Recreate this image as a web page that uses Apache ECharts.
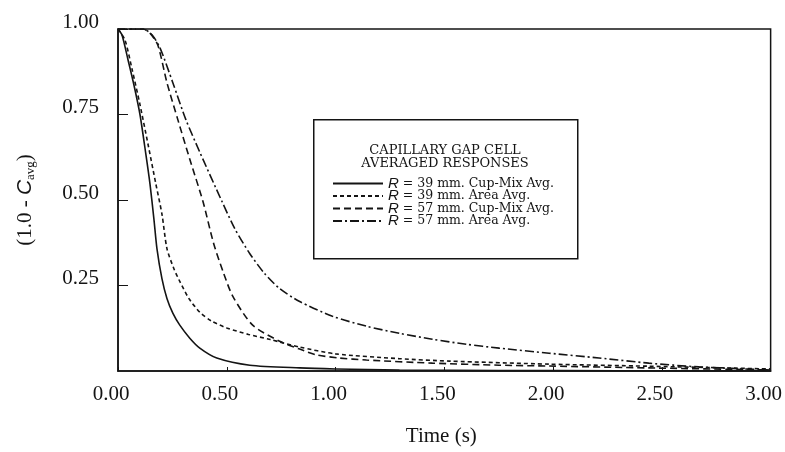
<!DOCTYPE html>
<html>
<head>
<meta charset="utf-8">
<script src="https://cdn.jsdelivr.net/npm/echarts@6/dist/echarts.min.js"></script>
<style>
html,body{margin:0;padding:0;background:#fff;}
#chart{width:785px;height:452px;}
</style>
</head>
<body>
<div id="chart"></div>
<script>
// Time (s) and (1.0 - C_avg) values
var tCup39 = [0, 0.018, 0.046, 0.073, 0.101, 0.128, 0.147, 0.165, 0.179, 0.202, 0.225, 0.252, 0.284, 0.330, 0.376, 0.454, 0.606, 0.835, 1.0, 1.294, 1.75, 2.3, 3.0];
var vCup39 = [1.0, 0.983, 0.910, 0.837, 0.750, 0.634, 0.547, 0.445, 0.358, 0.270, 0.212, 0.169, 0.134, 0.096, 0.067, 0.038, 0.017, 0.009, 0.006, 0.003, 0.0015, 0.0008, 0.0];

var tArea39 = [0, 0.032, 0.064, 0.101, 0.138, 0.174, 0.202, 0.225, 0.257, 0.284, 0.326, 0.376, 0.43, 0.5, 0.6, 0.7, 0.835, 1.0, 1.294, 1.523, 1.982, 2.44, 3.0];
var vArea39 = [1.0, 0.968, 0.884, 0.779, 0.663, 0.547, 0.459, 0.358, 0.299, 0.262, 0.212, 0.172, 0.146, 0.126, 0.107, 0.092, 0.070, 0.050, 0.036, 0.029, 0.020, 0.014, 0.006];

var tCup57 = [0, 0.115, 0.147, 0.183, 0.225, 0.275, 0.330, 0.390, 0.440, 0.486, 0.528, 0.619, 0.743, 0.835, 0.913, 1.018, 1.142, 1.445, 1.752, 1.982, 2.44, 3.0];
var vCup57 = [1.0, 1.0, 0.988, 0.953, 0.843, 0.735, 0.619, 0.497, 0.372, 0.285, 0.218, 0.134, 0.087, 0.064, 0.047, 0.038, 0.032, 0.023, 0.017, 0.0145, 0.009, 0.003];

var tArea57 = [0, 0.115, 0.156, 0.193, 0.252, 0.312, 0.376, 0.477, 0.537, 0.606, 0.674, 0.743, 0.835, 0.986, 1.142, 1.294, 1.445, 1.601, 1.752, 1.982, 2.211, 2.44, 2.67, 3.0];
var vArea57 = [1.0, 1.0, 0.983, 0.945, 0.843, 0.735, 0.640, 0.497, 0.416, 0.343, 0.285, 0.241, 0.203, 0.160, 0.131, 0.110, 0.093, 0.078, 0.067, 0.052, 0.038, 0.023, 0.012, 0.003];

var seriesNames = ['R39cup', 'R39area', 'R57cup', 'R57area'];
var legendLabels = {
  R39cup: '{i|R} = 39 mm. Cup-Mix Avg.',
  R39area: '{i|R} = 39 mm. Area Avg.',
  R57cup: '{i|R} = 57 mm. Cup-Mix Avg.',
  R57area: '{i|R} = 57 mm. Area Avg.'
};
var legendTitle = ['CAPILLARY GAP CELL', 'AVERAGED RESPONSES'];

function pairs(t, v) { return t.map(function (x, i) { return [x, v[i]]; }); }

var ink = '#141414';
var serif = '"Liberation Serif", "DejaVu Serif", serif';
var wideSerif = '"DejaVu Serif", "Liberation Serif", serif';
var sans = '"Liberation Sans", "DejaVu Sans", sans-serif';

var chart = echarts.init(document.getElementById('chart'), null, {renderer: 'canvas'});
var dashes = ['solid', [4, 3], [7, 4], [9, 3, 2, 3]];
var dataSets = [pairs(tCup39, vCup39), pairs(tArea39, vArea39), pairs(tCup57, vCup57), pairs(tArea57, vArea57)];

var option = {
  backgroundColor: '#fff',
  animation: false,
  grid: {left: 118, right: 13, top: 29, bottom: 79, show: true, borderColor: ink, borderWidth: 1.5, backgroundColor: 'transparent'},
  xAxis: {
    type: 'value', min: 0, max: 3, interval: 0.5,
    name: 'Time (s)', nameLocation: 'middle', nameGap: 55,
    nameTextStyle: {fontFamily: serif, fontSize: 21, color: ink, padding: [0, 6, 0, 0]},
    axisLine: {lineStyle: {color: ink, width: 1.5}},
    axisTick: {inside: true, length: 4, lineStyle: {color: ink}},
    splitLine: {show: false},
    axisLabel: {fontFamily: serif, fontSize: 21, color: ink, margin: 13, padding: [0, 14, 0, 0],
      formatter: function (v) { return v.toFixed(2); }}
  },
  yAxis: {
    type: 'value', min: 0, max: 1, interval: 0.25,
    name: '(1.0 - {c|C}{s|avg})', nameLocation: 'middle', nameGap: 81, nameRotate: 90,
    nameTextStyle: {fontFamily: serif, fontSize: 21, color: ink,
      rich: {c: {fontFamily: sans, fontStyle: 'italic', fontSize: 21, color: ink},
             s: {fontFamily: serif, fontSize: 13, color: ink, verticalAlign: 'bottom', padding: [10, 0, 0, 0]}}},
    axisLine: {lineStyle: {color: ink, width: 1.5}},
    axisTick: {inside: true, length: 10, lineStyle: {color: ink}},
    splitLine: {show: false},
    axisLabel: {fontFamily: serif, fontSize: 21, color: ink, margin: 19, showMinLabel: false,
      verticalAlign: 'bottom', lineHeight: 14,
      formatter: function (v) { return v === 0 ? '' : v.toFixed(2); }}
  },
  legend: {
    data: seriesNames, orient: 'vertical', left: 332, top: 176, padding: 0,
    itemWidth: 50, itemHeight: 10, itemGap: -2.5,
    selectedMode: false,
    itemStyle: {opacity: 0},
    formatter: function (n) { return legendLabels[n]; },
    textStyle: {fontFamily: wideSerif, fontSize: 12.5, color: ink, lineHeight: 12,
      rich: {i: {fontFamily: sans, fontStyle: 'italic', fontSize: 15, color: ink, lineHeight: 12}}}
  },
  graphic: [
    {type: 'rect', left: 313, top: 119, shape: {width: 264, height: 139}, style: {fill: 'transparent', stroke: ink, lineWidth: 1.5}, z: 10},
    {type: 'text', x: 445, y: 151, style: {text: legendTitle[0], fill: ink, font: '13px ' + wideSerif, textAlign: 'center', textVerticalAlign: 'middle'}, z: 10},
    {type: 'text', x: 445, y: 164, style: {text: legendTitle[1], fill: ink, font: '13px ' + wideSerif, textAlign: 'center', textVerticalAlign: 'middle'}, z: 10}
  ],
  series: seriesNames.map(function (n, i) {
    return {
      name: n, type: 'line', data: dataSets[i], symbol: 'none', smooth: 0.25,
      lineStyle: {color: ink, width: 1.6, type: dashes[i]},
      itemStyle: {color: ink}
    };
  })
};
chart.setOption(option);
</script>
</body>
</html>
